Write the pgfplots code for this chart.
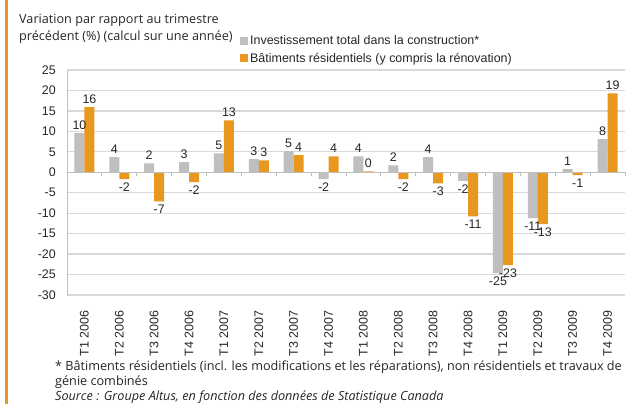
\documentclass[border=0pt]{standalone}
\usepackage{fontspec}
\setmainfont{Liberation Sans}
\newfontfamily\notefont{Open Sans}
\usepackage{pgfplots}
\pgfplotsset{compat=1.18}
\definecolor{barg}{HTML}{BFBFBF}
\definecolor{baro}{HTML}{E9981F}
\definecolor{gridc}{HTML}{D9D9D9}
\definecolor{inkc}{HTML}{262626}
\definecolor{framec}{HTML}{E8961E}

% quarter, total construction, residential
\pgfplotstableread{
idx tot res
0   9.6  15.9
1   3.7  -1.7
2   2.2  -7.1
3   2.5  -2.4
4   4.6  12.7
5   3.2   2.9
6   5.2   4.2
7  -1.7   3.9
8   3.9   0.2
9   1.7  -1.7
10  3.7  -2.7
11 -2.1 -10.8
12 -24.6 -22.7
13 -11.2 -12.7
14  0.8  -0.7
15  8.1  19.3
}\quarters

\newcommand{\lab}{\fontsize{12.5}{14}\selectfont}
\newcommand{\note}{\notefont\fontsize{12.7}{14}\selectfont}

\begin{document}
\begin{tikzpicture}
\useasboundingbox (0,0) rectangle (631bp,404bp);
\fill[framec] (5bp,0) rectangle (8bp,404bp);

\node[anchor=base west, inner sep=0pt, text=inkc, font=\note] at (19bp,380bp) {Variation par rapport au trimestre};
\node[anchor=base west, inner sep=0pt, text=inkc, font=\note] at (19bp,363bp) {précédent (\%) (calcul sur une année)};

\begin{axis}[
  at={(67bp,109bp)}, anchor=south west,
  scale only axis, width=558bp, height=225bp,
  ybar=0pt, bar width=10bp,
  xmin=-0.5, xmax=15.5, ymin=-30, ymax=25,
  ytick={-30,-25,...,25},
  xtick=data,
  xticklabels={T1 2006,T2 2006,T3 2006,T4 2006,T1 2007,T2 2007,T3 2007,T4 2007,T1 2008,T2 2008,T3 2008,T4 2008,T1 2009,T2 2009,T3 2009,T4 2009},
  axis x line*=bottom, axis y line*=left,
  x axis line style={draw=none}, y axis line style={draw=barg, line width=1bp},
  tick style={draw=none},
  ymajorgrids, grid style={gridc, line width=1.2bp},
  /pgf/number format/assume math mode=true,
  /pgf/number format/fixed, /pgf/number format/precision=0,
  yticklabel style={font=\lab, text=inkc, inner xsep=11bp},
  xticklabel style={font=\lab, text=inkc, rotate=90, anchor=east, inner xsep=11bp, inner ysep=0pt},
  nodes near coords,
  nodes near coords style={font=\lab, text=inkc},
  legend style={at={(0.31,1.163)}, anchor=north west, draw=none, fill=none,
    inner sep=0pt, font=\lab, text=inkc, row sep=3bp,
    /tikz/every even column/.append style={column sep=0pt}},
  legend cell align=left,
  clip=false,
]
\addplot[fill=barg, draw=none, legend image code/.code={\fill[barg] (0bp,-4bp) rectangle (8bp,4bp);}] table[x=idx, y=tot] {\quarters};
\addplot[fill=baro, draw=none, legend image code/.code={\fill[baro] (0bp,-4bp) rectangle (8bp,4bp);}] table[x=idx, y=res] {\quarters};
\legend{Investissement total dans la construction*, Bâtiments résidentiels (y compris la rénovation)}
\draw[barg, line width=1.2bp] (axis cs:-0.5,0) -- (axis cs:15.5,0);
\pgfplotsinvokeforeach{0,...,15}{\draw[barg, line width=1bp] (axis cs:{#1+0.5},0) -- ++(0bp,-4bp);}
\end{axis}

\node[anchor=base west, inner sep=0pt, text=inkc, font=\note] at (55bp,34bp) {* Bâtiments résidentiels (incl. les modifications et les réparations), non résidentiels et travaux de};
\node[anchor=base west, inner sep=0pt, text=inkc, font=\note] at (55bp,19bp) {génie combinés};
\node[anchor=base west, inner sep=0pt, text=inkc, font=\note\itshape] at (55bp,4bp) {Source : Groupe Altus, en fonction des données de Statistique Canada};
\end{tikzpicture}
\end{document}
